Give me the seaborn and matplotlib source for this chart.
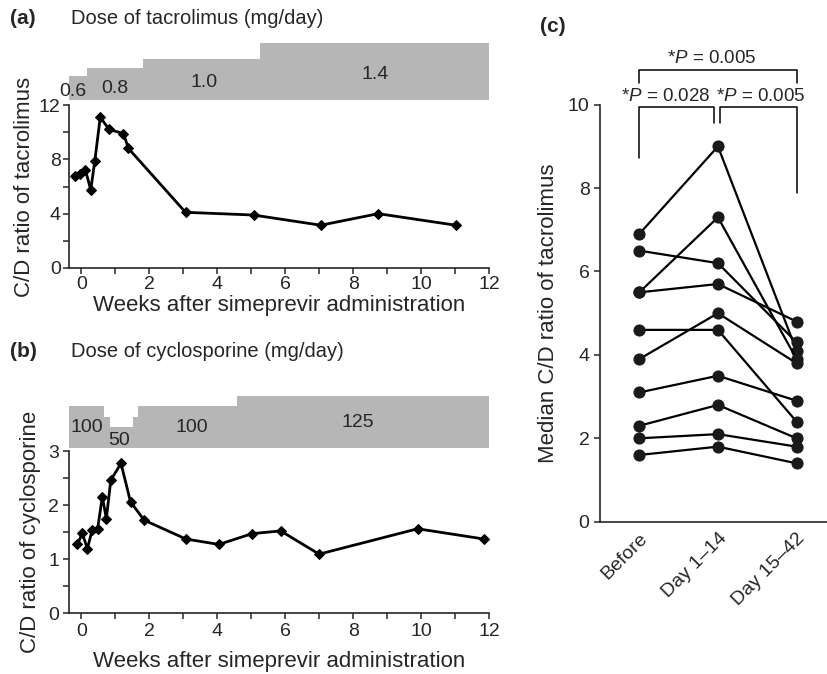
import numpy as np
import pandas as pd
import matplotlib
matplotlib.use("Agg")
import matplotlib.pyplot as plt
from matplotlib.ticker import MultipleLocator
import seaborn as sns

# ---------------- data ----------------
# (a) tacrolimus
weeks_a = [-0.18, -0.05, 0.12, 0.28, 0.40, 0.56, 0.82, 1.24, 1.39, 3.07, 5.07, 7.05, 8.74, 11.02]
cd_a = [6.8, 6.95, 7.25, 5.75, 7.9, 11.1, 10.2, 9.9, 8.8, 4.1, 3.9, 3.15, 4.0, 3.15]
dose_a_edges = [-0.40, 0.18, 1.83, 5.27, 12.0]
dose_a = [0.6, 0.8, 1.0, 1.4]
dose_a_labels = ["0.6", "0.8", "1.0", "1.4"]

# (b) cyclosporine
weeks_b = [-0.11, 0.03, 0.18, 0.32, 0.48, 0.62, 0.74, 0.87, 1.17, 1.45, 1.85,
           3.08, 4.05, 5.03, 5.87, 7.0, 9.9, 11.85]
cd_b = [1.27, 1.48, 1.19, 1.53, 1.55, 2.15, 1.75, 2.46, 2.77, 2.06, 1.72,
        1.37, 1.27, 1.47, 1.52, 1.09, 1.56, 1.37]
dose_b_edges = [-0.40, 0.68, 0.86, 1.51, 1.68, 4.59, 12.0]
dose_b = [100, 75, 50, 75, 100, 125]
dose_b_labels = ["100", "50", "100", "125"]

# (c) median C/D ratio per patient
periods = ["Before", "Day 1\u201314", "Day 15\u201342"]
before = [6.9, 6.5, 5.5, 5.5, 3.9, 4.6, 3.1, 2.3, 2.0, 1.6]
day1_14 = [9.0, 6.2, 7.3, 5.7, 5.0, 4.6, 3.5, 2.8, 2.1, 1.8]
day15_42 = [4.1, 4.3, 3.9, 4.8, 3.8, 2.4, 2.9, 2.0, 1.8, 1.4]

# ---------------- style ----------------
sns.set_style("ticks")
plt.rcParams["font.family"] = ["Liberation Sans", "DejaVu Sans"]
plt.rcParams["mathtext.fontset"] = "custom"
plt.rcParams["mathtext.rm"] = "Liberation Sans"
plt.rcParams["mathtext.it"] = "Liberation Sans:italic"
plt.rcParams["axes.linewidth"] = 1.2
for k in ["xtick.major.width", "ytick.major.width", "xtick.minor.width", "ytick.minor.width"]:
    plt.rcParams[k] = 1.1
for k in ["xtick.major.size", "ytick.major.size", "xtick.minor.size", "ytick.minor.size"]:
    plt.rcParams[k] = 4

W, H = 828, 674
fig = plt.figure(figsize=(W / 100, H / 100), dpi=100)


def rect(l, t, r, b):
    return [l / W, 1 - b / H, (r - l) / W, (b - t) / H]


TICK = 14
LAB = 16
TIT = 14.5
GRAY = "#b6b6b6"

# ---------------- panel (a) ----------------
ax_a = fig.add_axes(rect(69, 105, 489, 268))
sns.lineplot(x=weeks_a, y=cd_a, ax=ax_a, color="black", lw=2, marker="D",
             markersize=5, markeredgecolor="black", sort=False)
ax_a.set_xlim(-0.36, 12)
ax_a.set_ylim(0, 12)
ax_a.xaxis.set_major_locator(MultipleLocator(2))
ax_a.xaxis.set_minor_locator(MultipleLocator(1))
ax_a.yaxis.set_major_locator(MultipleLocator(4))
ax_a.yaxis.set_minor_locator(MultipleLocator(2))
ax_a.tick_params(labelsize=TICK, which="both", pad=2)
ax_a.set_xlabel("Weeks after simeprevir administration", fontsize=LAB, labelpad=1)
ax_a.set_ylabel("C/D ratio of tacrolimus", fontsize=LAB, labelpad=3)
sns.despine(ax=ax_a)

ax_da = fig.add_axes(rect(69, 100 - 56.7, 489, 100))
ax_da.bar(dose_a_edges[:-1], dose_a, width=np.diff(dose_a_edges), align="edge",
          color=GRAY, linewidth=0)
ax_da.set_xlim(-0.36, 12)
ax_da.set_ylim(0, 1.4)
ax_da.axis("off")
lab_pos_a = [(-0.24, 0.21), (1.0, 0.29), (3.6, 0.44), (8.65, 0.63)]
for (x, y), t in zip(lab_pos_a, dose_a_labels):
    ax_da.text(x, y, t, ha="center", va="center", fontsize=TICK, clip_on=False)

fig.text(10 / W, 1 - 18 / H, "(a)", fontsize=TIT + 0.5, fontweight="bold", va="center")
fig.text(71 / W, 1 - 18 / H, "Dose of tacrolimus (mg/day)", fontsize=TIT, va="center")

# ---------------- panel (b) ----------------
ax_b = fig.add_axes(rect(69, 451, 489, 613))
sns.lineplot(x=weeks_b, y=cd_b, ax=ax_b, color="black", lw=2, marker="D",
             markersize=5, markeredgecolor="black", sort=False)
ax_b.set_xlim(-0.36, 12)
ax_b.set_ylim(0, 3)
ax_b.xaxis.set_major_locator(MultipleLocator(2))
ax_b.xaxis.set_minor_locator(MultipleLocator(1))
ax_b.yaxis.set_major_locator(MultipleLocator(1))
ax_b.yaxis.set_minor_locator(MultipleLocator(0.5))
ax_b.tick_params(labelsize=TICK, which="both", pad=3)
ax_b.set_xlabel("Weeks after simeprevir administration", fontsize=LAB, labelpad=8)
ax_b.set_ylabel("C/D ratio of cyclosporine", fontsize=LAB, labelpad=5)
sns.despine(ax=ax_b)

ax_db = fig.add_axes(rect(69, 448 - 53, 489, 448))
ax_db.bar(dose_b_edges[:-1], dose_b, width=np.diff(dose_b_edges), align="edge",
          color=GRAY, linewidth=0)
ax_db.set_xlim(-0.36, 12)
ax_db.set_ylim(0, 127)
ax_db.axis("off")
lab_pos_b = [(0.15, 48), (1.12, 19), (3.24, 48), (8.15, 60)]
for (x, y), t in zip(lab_pos_b, dose_b_labels):
    ax_db.text(x, y, t, ha="center", va="center", fontsize=TICK, clip_on=False)

fig.text(10 / W, 1 - 351 / H, "(b)", fontsize=TIT + 0.5, fontweight="bold", va="center")
fig.text(71 / W, 1 - 351 / H, "Dose of cyclosporine (mg/day)", fontsize=TIT, va="center")

# ---------------- panel (c) ----------------
n = len(before)
df_c = pd.DataFrame({
    "subject": np.repeat(np.arange(n), 3),
    "period": np.tile([0, 1, 2], n),
    "value": np.ravel(np.column_stack([before, day1_14, day15_42])),
})
ax_c = fig.add_axes(rect(600, 104.7, 828, 521.7))
sns.lineplot(data=df_c, x="period", y="value", units="subject", estimator=None,
             ax=ax_c, color="black", lw=1.6, marker="o", markersize=8,
             markerfacecolor="#1a1a1a", markeredgecolor="#1a1a1a", sort=False)
ax_c.set_xlim(-0.5, 2.4)
ax_c.set_ylim(0, 10)
ax_c.yaxis.set_major_locator(MultipleLocator(2))
ax_c.set_xticks([0, 1, 2])
ax_c.set_xticklabels(periods, rotation=45, ha="right", rotation_mode="anchor")
ax_c.tick_params(labelsize=TICK)
ax_c.tick_params(axis="x", length=0, pad=6)
ax_c.set_xlabel("")
ax_c.set_ylabel("Median C/D ratio of tacrolimus", fontsize=LAB, labelpad=6)
sns.despine(ax=ax_c)

# significance brackets
bk = dict(color="black", lw=1.1, clip_on=False)
ax_c.plot([0, 0, 2, 2], [10.52, 10.83, 10.83, 10.52], **bk)
ax_c.plot([0, 0, 0.95, 0.95], [8.72, 9.95, 9.95, 9.56], **bk)
ax_c.plot([1.02, 1.02, 2, 2], [9.56, 9.95, 9.95, 7.88], **bk)
PFS = 13.5
ax_c.text(0.92, 11.1, "*$P$ = 0.005", ha="center", va="center", fontsize=PFS, clip_on=False)
ax_c.text(0.34, 10.2, "*$P$ = 0.028", ha="center", va="center", fontsize=PFS, clip_on=False)
ax_c.text(1.55, 10.2, "*$P$ = 0.005", ha="center", va="center", fontsize=PFS, clip_on=False)

fig.text(540 / W, 1 - 26 / H, "(c)", fontsize=TIT + 0.5, fontweight="bold", va="center")

fig.savefig("out.png", dpi=100)
